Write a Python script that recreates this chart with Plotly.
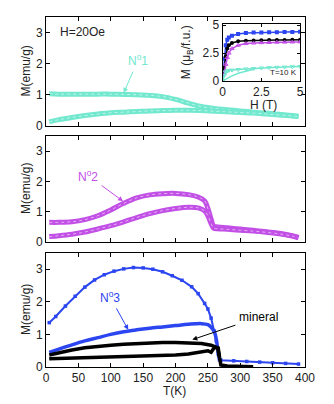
import plotly.graph_objects as go

# ---- panel 1 (N°1, turquoise) ----
t1 = [5, 20, 40, 60, 80, 100, 120, 140, 160, 180, 200, 220, 240, 260, 280, 300, 320, 340, 360, 380, 390]
m1_fc = [1.03, 1.02, 1.02, 1.02, 1.02, 1.02, 1.01, 1.0, 0.98, 0.94, 0.85, 0.73, 0.62, 0.56, 0.52, 0.48, 0.44, 0.41, 0.37, 0.33, 0.31]
m1_zfc = [0.13, 0.2, 0.27, 0.33, 0.38, 0.42, 0.44, 0.46, 0.48, 0.49, 0.5, 0.5, 0.49, 0.47, 0.45, 0.43, 0.41, 0.38, 0.35, 0.32, 0.3]

# ---- panel 2 (N°2, violet) ----
t2 = [5, 20, 40, 60, 80, 100, 120, 140, 160, 180, 200, 220, 235, 245, 250, 255, 259, 265, 280, 300, 320, 340, 360, 380, 390]
m2_fc = [0.64, 0.64, 0.66, 0.73, 0.86, 1.05, 1.27, 1.45, 1.55, 1.59, 1.6, 1.56, 1.48, 1.35, 1.1, 0.75, 0.52, 0.49, 0.46, 0.42, 0.38, 0.33, 0.28, 0.2, 0.14]
m2_zfc = [0.17, 0.2, 0.25, 0.32, 0.42, 0.53, 0.66, 0.8, 0.93, 1.03, 1.1, 1.14, 1.12, 1.02, 0.86, 0.6, 0.45, 0.43, 0.41, 0.38, 0.35, 0.31, 0.26, 0.19, 0.13]

# ---- panel 3 (N°3 blue, mineral black) ----
t3_fc = [5, 15, 30, 45, 60, 75, 90, 105, 120, 135, 150, 165, 180, 195, 210, 225, 235, 245, 250, 255, 260, 263, 266, 268, 270, 290, 310, 330, 350, 370, 390]
m3_fc = [1.36, 1.55, 1.87, 2.17, 2.45, 2.67, 2.83, 2.94, 3.01, 3.05, 3.04, 3.0, 2.92, 2.8, 2.66, 2.46, 2.25, 1.95, 1.78, 1.5, 1.1, 0.8, 0.4, 0.22, 0.21, 0.19, 0.17, 0.15, 0.13, 0.11, 0.09]
t3_zfc = [5, 20, 40, 60, 80, 100, 120, 140, 160, 180, 200, 220, 240, 250, 255, 260, 263, 266, 268]
m3_zfc = [0.45, 0.55, 0.68, 0.8, 0.9, 1.0, 1.08, 1.14, 1.19, 1.23, 1.27, 1.31, 1.33, 1.3, 1.22, 1.08, 0.85, 0.45, 0.22]

tmin_fc = [5, 20, 40, 60, 80, 100, 120, 140, 160, 180, 200, 220, 240, 255, 262, 266, 268, 270, 280, 300, 320]
mmin_fc = [0.37, 0.44, 0.52, 0.59, 0.64, 0.67, 0.7, 0.72, 0.74, 0.75, 0.75, 0.74, 0.72, 0.67, 0.62, 0.58, 0.3, 0.06, 0.03, 0.02, 0.01]
tmin_zfc = [5, 20, 40, 60, 80, 100, 120, 140, 160, 180, 200, 220, 240, 250, 255, 260, 265, 268]
mmin_zfc = [0.25, 0.26, 0.27, 0.28, 0.29, 0.3, 0.31, 0.32, 0.33, 0.35, 0.37, 0.4, 0.46, 0.5, 0.45, 0.6, 0.58, 0.3]

# ---- inset M(H) at T=10 K ----
h = [0, 0.1, 0.2, 0.3, 0.4, 0.6, 1, 1.5, 2, 2.5, 3, 3.5, 4, 4.5, 5]
mh_blue = [0, 2.0, 3.2, 3.7, 3.9, 4.05, 4.2, 4.3, 4.33, 4.35, 4.36, 4.37, 4.38, 4.39, 4.4]
mh_black = [0, 1.2, 2.2, 2.9, 3.2, 3.4, 3.55, 3.6, 3.63, 3.65, 3.66, 3.67, 3.68, 3.69, 3.7]
mh_violet = [0, 0.8, 1.5, 2.1, 2.5, 2.9, 3.2, 3.35, 3.4, 3.43, 3.45, 3.47, 3.48, 3.49, 3.5]
mh_turq = [0, 0.5, 0.8, 0.9, 0.95, 0.98, 1.03, 1.08, 1.12, 1.16, 1.2, 1.23, 1.25, 1.28, 1.3]
h_turq_low = [0, 0.25, 0.5, 1, 1.5, 2]
mh_turq_low = [0, 0.2, 0.4, 0.7, 0.9, 1.05]

TURQ = "#72e8cf"
VIOL = "#c24fe6"
BLUE = "#2b45f0"
BLK = "black"

fig = go.Figure()


def band(x, y, color, xa, ya):
    # thick band of dense open symbols: coloured line + light dotted core
    fig.add_trace(go.Scatter(x=x, y=y, mode="lines", line=dict(color=color, width=5, shape="spline"),
                             xaxis=xa, yaxis=ya, showlegend=False))
    fig.add_trace(go.Scatter(x=x, y=y, mode="lines", line=dict(color="white", width=1, dash="dot", shape="spline"),
                             opacity=0.55, xaxis=xa, yaxis=ya, showlegend=False))


band(t1, m1_fc, TURQ, "x", "y")
band(t1, m1_zfc, TURQ, "x", "y")
band(t2, m2_fc, VIOL, "x2", "y2")
band(t2, m2_zfc, VIOL, "x2", "y2")

fig.add_trace(go.Scatter(x=t3_fc, y=m3_fc, mode="lines+markers",
                         line=dict(color=BLUE, width=2), marker=dict(symbol="square", size=3.5, color=BLUE),
                         xaxis="x3", yaxis="y3", showlegend=False))
fig.add_trace(go.Scatter(x=t3_zfc, y=m3_zfc, mode="lines", line=dict(color=BLUE, width=3.5, shape="spline"),
                         xaxis="x3", yaxis="y3", showlegend=False))
fig.add_trace(go.Scatter(x=tmin_fc, y=mmin_fc, mode="lines", line=dict(color=BLK, width=3.5),
                         xaxis="x3", yaxis="y3", showlegend=False))
fig.add_trace(go.Scatter(x=tmin_zfc, y=mmin_zfc, mode="lines", line=dict(color=BLK, width=3.5),
                         xaxis="x3", yaxis="y3", showlegend=False))

# inset
for yy, col, sym in [(mh_blue, BLUE, "square"), (mh_black, BLK, "circle"),
                     (mh_violet, VIOL, "triangle-up-open"), (mh_turq, TURQ, "triangle-down-open")]:
    fig.add_trace(go.Scatter(x=h, y=yy, mode="lines+markers", line=dict(color=col, width=1.5),
                             marker=dict(symbol=sym, size=4, color=col),
                             xaxis="x4", yaxis="y4", showlegend=False))
fig.add_trace(go.Scatter(x=h_turq_low, y=mh_turq_low, mode="lines", line=dict(color=TURQ, width=1.5),
                         xaxis="x4", yaxis="y4", showlegend=False))

ax_common = dict(showline=True, linecolor="black", linewidth=1, mirror="ticks", ticks="inside",
                 ticklen=4, tickcolor="black", showgrid=False, zeroline=False, automargin=False)
xmain = dict(ax_common, range=[0, 400], dtick=50, domain=[0, 1])
ymain = dict(ax_common, range=[0, 3.5], dtick=1)

fig.update_layout(
    width=334, height=404,
    margin=dict(l=46, r=29, t=17, b=37),
    plot_bgcolor="white", paper_bgcolor="white",
    font=dict(family="Liberation Sans", size=12, color="#222"),
    xaxis=dict(xmain, anchor="y", showticklabels=False),
    yaxis=dict(ymain, domain=[0.689, 1], anchor="x"),
    xaxis2=dict(xmain, anchor="y2", showticklabels=False),
    yaxis2=dict(ymain, domain=[0.358, 0.66], anchor="x2"),
    xaxis3=dict(xmain, anchor="y3"),
    yaxis3=dict(ymain, domain=[0, 0.326], anchor="x3"),
    xaxis4=dict(ax_common, range=[0, 5], tickvals=[0, 2.5, 5], ticktext=["0", "2.5", "5"],
                domain=[0.682, 0.981], anchor="y4", ticklen=3),
    yaxis4=dict(ax_common, range=[0, 5.1], tickvals=[0, 2.5, 5], ticktext=["0", "2.5", "5"],
                domain=[0.817, 0.98], anchor="x4", ticklen=3),
)

for ya in ["y", "y2", "y3"]:
    fig.add_annotation(text="M(emu/g)", xref="paper", yref=ya + " domain", x=-0.077, y=0.5,
                       textangle=-90, showarrow=False, xanchor="center", yanchor="middle")

# axis titles placed as text so they sit where the reference has them
fig.add_annotation(text="T(K)", xref="paper", yref="paper", x=0.495, y=-0.068,
                   showarrow=False, xanchor="center", yanchor="middle")
fig.add_annotation(text="H (T)", xref="paper", yref="paper", x=0.838, y=0.749,
                   showarrow=False, xanchor="center", yanchor="middle")
fig.add_annotation(text="M (μ<sub>B</sub>/f.u.)", xref="paper", yref="paper", x=0.545, y=0.9,
                   textangle=-90, showarrow=False, xanchor="center", yanchor="middle")

fig.add_annotation(text="H=20Oe", x=57, y=3.02, xref="x", yref="y", showarrow=False)
fig.add_annotation(text="T=10 K", x=3.95, y=0.74, xref="x4", yref="y4", showarrow=False,
                   font=dict(size=8))


def label(text, col, xa, ya, tx, ty, x1, y1):
    # text sits at the tail, arrow points to (x1, y1)
    fig.add_annotation(text=text, x=x1, y=y1, ax=tx, ay=ty, xref=xa, yref=ya, axref=xa, ayref=ya,
                       showarrow=True, arrowhead=2, arrowsize=1, arrowwidth=1, arrowcolor=col,
                       standoff=0, borderpad=3, font=dict(color=col, size=12))


label("N<sup>o</sup>1", TURQ, "x", "y", 142, 2.11, 120, 1.06)
label("N<sup>o</sup>2", VIOL, "x2", "y2", 65, 2.19, 119, 1.34)
label("N<sup>o</sup>3", BLUE, "x3", "y3", 99, 2.15, 127, 1.14)
label("mineral", BLK, "x3", "y3", 328, 1.52, 226, 0.84)

# page body has a default margin; drop it so the figure sits at the window origin
fig.write_html("out.html", config={"displayModeBar": False},
               post_script="document.body.style.margin='0';")
